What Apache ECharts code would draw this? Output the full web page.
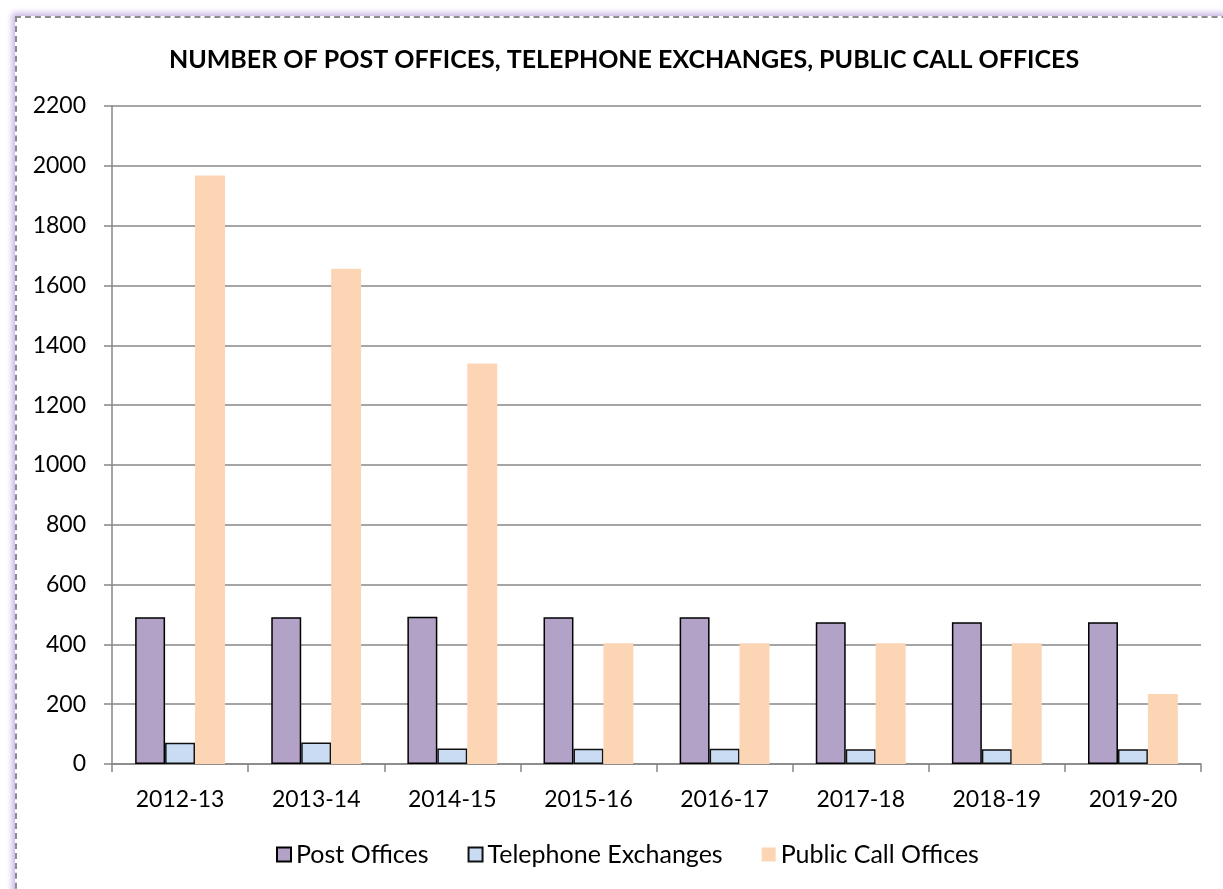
<!DOCTYPE html>
<html>
<head>
<meta charset="utf-8">
<script src="https://cdn.jsdelivr.net/npm/echarts@6/dist/echarts.min.js"></script>
<style>
  html, body { margin: 0; padding: 0; background: #ffffff; overflow: hidden; }
  #chart { position: absolute; left: 0; top: 0; width: 1223px; height: 889px; }
  .frame {
    position: absolute; left: 15px; top: 16px; width: 1400px; height: 1100px;
    border-top: 2px dashed #8c8c8c; border-left: 2px dashed #8c8c8c;
    box-shadow: -3px -3px 6px #c9b6e4;
    pointer-events: none;
  }
</style>
</head>
<body>
<div id="chart"></div>
<div class="frame"></div>
<script>
// years on the x axis
const years = ["2012-13", "2013-14", "2014-15", "2015-16", "2016-17", "2017-18", "2018-19", "2019-20"];
// values
const postOffices = [491, 491, 492, 491, 491, 474, 474, 474];
const telephoneExchanges = [71, 72, 52, 51, 51, 49, 49, 49];
const publicCallOffices = [1968, 1656, 1339, 404, 404, 404, 404, 234];

const font = "Lato";
const chart = echarts.init(document.getElementById("chart"));

const option = {
  animation: false,
  textStyle: { fontFamily: font },
  title: {
    text: "NUMBER OF POST OFFICES, TELEPHONE EXCHANGES, PUBLIC CALL OFFICES",
    left: 619,
    top: 42,
    textAlign: "center",
    textStyle: { fontFamily: font, fontWeight: "bold", fontSize: 25, color: "#000" },
  },
  legend: {
    bottom: 17,
    left: 271,
    icon: "rect",
    itemWidth: 14,
    itemHeight: 14,
    itemGap: 39,
    textStyle: { fontFamily: font, fontSize: 25, color: "#000" },
    data: ["Post Offices", "Telephone Exchanges", "Public Call Offices"],
  },
  grid: { left: 112, right: 22, top: 106, bottom: 125 },
  xAxis: {
    type: "category",
    data: years,
    axisLine: { lineStyle: { color: "#868686", width: 1.5 } },
    axisTick: { show: true, length: 8, lineStyle: { color: "#868686", width: 1.5 } },
    axisLabel: { fontFamily: font, fontSize: 23, color: "#000", margin: 24 },
  },
  yAxis: {
    type: "value",
    min: 0,
    max: 2200,
    interval: 200,
    axisLine: { show: true, lineStyle: { color: "#868686", width: 1.5 } },
    axisTick: { show: true, length: 8, lineStyle: { color: "#868686", width: 1.5 } },
    axisLabel: {
      fontFamily: font, fontSize: 23, color: "#000", margin: 26,
      formatter: (v) => String(v),
    },
    splitLine: { lineStyle: { color: "#878787", width: 1.5 } },
  },
  series: [
    {
      name: "Post Offices",
      type: "bar",
      data: postOffices,
      barGap: "0%",
      barCategoryGap: "34%",
      itemStyle: { color: "#B3A2C7", borderColor: "#000", borderWidth: 1.5 },
    },
    {
      name: "Telephone Exchanges",
      type: "bar",
      data: telephoneExchanges,
      itemStyle: { color: "#C9DCF4", borderColor: "#111", borderWidth: 1.5 },
    },
    {
      name: "Public Call Offices",
      type: "bar",
      data: publicCallOffices,
      itemStyle: { color: "#FCD5B5" },
    },
  ],
};

chart.setOption(option);
</script>
</body>
</html>
